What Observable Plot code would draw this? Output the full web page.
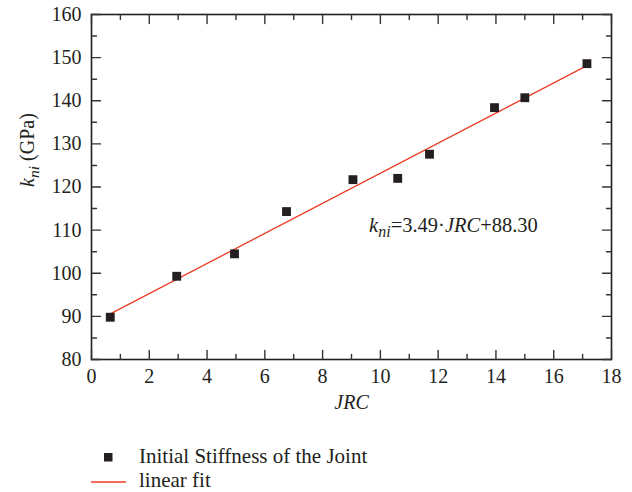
<!DOCTYPE html>
<html>
<head>
<meta charset="utf-8">
<script src="https://cdn.jsdelivr.net/npm/d3@7"></script>
<script src="https://cdn.jsdelivr.net/npm/@observablehq/plot@0.6"></script>
<style>
  html, body { margin: 0; padding: 0; background: #fff; }
  #wrap { position: relative; width: 632px; height: 492px; font-family: "Liberation Serif", serif; color: #231f20; }
  .leg { position: absolute; left: 0; font-size: 21px; line-height: 24px; white-space: nowrap; }
  .leg .lab { position: absolute; left: 139px; top: 0; }
</style>
</head>
<body>
<div id="wrap">
  <div id="chart"></div>
  <div class="leg" style="top:444px;width:632px;height:24px;">
    <svg width="130" height="24" style="position:absolute;left:0;top:0"><rect x="104" y="9" width="8.5" height="8.5" fill="#231f20"></rect></svg>
    <span class="lab">Initial Stiffness of the Joint</span>
  </div>
  <div class="leg" style="top:468px;width:632px;height:24px;">
    <svg width="130" height="24" style="position:absolute;left:0;top:0"><line x1="91" x2="126" y1="14" y2="14" stroke="#ec3b24" stroke-width="1.3"></line></svg>
    <span class="lab">linear fit</span>
  </div>
</div>
<script>
// Data
const jrc = [0.65, 2.95, 4.95, 6.75, 9.05, 10.6, 11.7, 13.95, 15.0, 17.15];
const kni = [89.8, 99.3, 104.5, 114.3, 121.7, 122.0, 127.6, 138.4, 140.7, 148.6];
const fitJRC = [0.65, 17.15];
const fitKni = [90.57, 148.15];
const xTicks = [0, 2, 4, 6, 8, 10, 12, 14, 16, 18];
const xMinor = [1, 3, 5, 7, 9, 11, 13, 15, 17];
const yTicks = [80, 90, 100, 110, 120, 130, 140, 150, 160];
const yMinor = [85, 95, 105, 115, 125, 135, 145, 155];
const annotX = [12.53];
const annotY = [111.0];

const points = jrc.map((x, i) => ({x, y: kni[i]}));
const fit = fitJRC.map((x, i) => ({x, y: fitKni[i]}));

const ink = "#231f20";
const tickShape = { draw(ctx, l) { ctx.moveTo(0, 0); ctx.lineTo(0, -l); } };

function rich(parts) {
  return (index, scales, values, dims, context, next) => {
    const g = next(index, scales, values, dims, context);
    d3.select(g).selectAll("text").each(function () {
      const t = d3.select(this);
      t.text(null);
      for (const p of parts) {
        const ts = t.append("tspan").text(p.t);
        if (p.i) ts.attr("font-style", "italic");
        if (p.sub) ts.attr("baseline-shift", "-0.3em").attr("font-size", "0.78em");
      }
    });
    return g;
  };
}

function ticks(data, dir, len, anchor, rotate) {
  return Plot.vector(data, {
    [dir]: d => d, frameAnchor: anchor, rotate, length: len, anchor: "start",
    shape: tickShape, stroke: "#333", strokeWidth: 1.4
  });
}

const plot = Plot.plot({
  width: 632,
  height: 430,
  marginLeft: 91,
  marginRight: 21,
  marginTop: 14,
  marginBottom: 71,
  style: { fontFamily: "Liberation Serif, serif", fontSize: "20px", color: ink, background: "#fff" },
  x: { domain: [0, 18], label: null },
  y: { domain: [80, 160], label: null },
  marks: [
    Plot.line(fit, { x: "x", y: "y", stroke: "#ec3b24", strokeWidth: 1.3 }),
    Plot.dot(points, { x: "x", y: "y", symbol: "square", r: 5, fill: ink, stroke: "none" }),
    Plot.frame({ stroke: ink, strokeWidth: 1.6 }),
    ticks(xTicks, "x", 9, "bottom", 0),
    ticks(xMinor, "x", 5, "bottom", 0),
    ticks(xTicks, "x", 9, "top", 180),
    ticks(xMinor, "x", 5, "top", 180),
    ticks(yTicks, "y", 9, "left", 90),
    ticks(yMinor, "y", 5, "left", 90),
    ticks(yTicks, "y", 9, "right", -90),
    ticks(yMinor, "y", 5, "right", -90),
    Plot.axisX(xTicks, { tickSize: 0, tickPadding: 9, fontSize: 20, label: null }),
    Plot.axisY(yTicks, { tickSize: 0, tickPadding: 10, fontSize: 20, label: null }),
    Plot.text(["JRC"], { frameAnchor: "bottom", dy: 49, fontStyle: "italic", fontSize: 20, fill: ink }),
    Plot.text(["kni (GPa)"], {
      frameAnchor: "left", dx: -64, rotate: -90, fontSize: 20, fill: ink,
      render: rich([{ t: "k", i: true }, { t: "ni", i: true, sub: true }, { t: " (GPa)" }])
    }),
    Plot.text([0], {
      x: () => annotX[0], y: () => annotY[0], text: () => "kni=3.49·JRC+88.30", fontSize: 20.5, fill: ink,
      render: rich([{ t: "k", i: true }, { t: "ni", i: true, sub: true }, { t: "=3.49·" }, { t: "JRC", i: true }, { t: "+88.30" }])
    })
  ]
});
document.getElementById("chart").appendChild(plot);
</script>
</body>
</html>
